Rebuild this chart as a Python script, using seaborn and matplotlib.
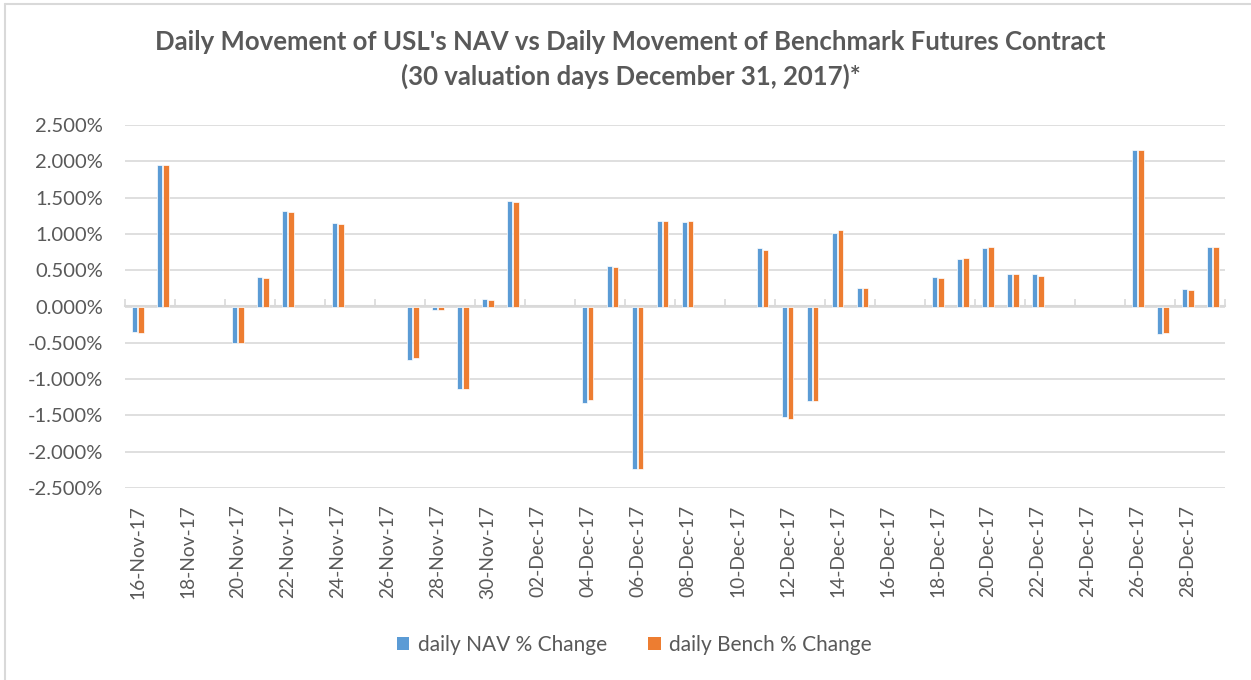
import matplotlib
matplotlib.use("Agg")
import matplotlib.pyplot as plt
import matplotlib.ticker as mticker
from matplotlib.lines import Line2D
from matplotlib.patches import Patch
import seaborn as sns
import pandas as pd
import numpy as np

sns.set_theme(style="white")
plt.rcParams['font.family'] = ['Lato', 'DejaVu Sans']

# valuation days
dates = ['2017-11-16', '2017-11-17', '2017-11-20', '2017-11-21', '2017-11-22',
         '2017-11-24', '2017-11-27', '2017-11-28', '2017-11-29', '2017-11-30',
         '2017-12-01', '2017-12-04', '2017-12-05', '2017-12-06', '2017-12-07',
         '2017-12-08', '2017-12-11', '2017-12-12', '2017-12-13', '2017-12-14',
         '2017-12-15', '2017-12-18', '2017-12-19', '2017-12-20', '2017-12-21',
         '2017-12-22', '2017-12-26', '2017-12-27', '2017-12-28', '2017-12-29']

# daily % change (in percent)
nav_change = [-0.354, 1.954, -0.506, 0.405, 1.315, 1.145, -0.735, -0.046, -1.136, 0.097,
              1.458, -1.333, 0.552, -2.239, 1.172, 1.159, 0.800, -1.526, -1.306, 1.016,
              0.253, 0.405, 0.653, 0.800, 0.446, 0.441, 2.152, -0.382, 0.239, 0.818]
bench_change = [-0.360, 1.945, -0.500, 0.395, 1.300, 1.140, -0.713, -0.050, -1.136, 0.083,
                1.434, -1.287, 0.547, -2.239, 1.172, 1.177, 0.777, -1.554, -1.297, 1.048,
                0.253, 0.391, 0.662, 0.814, 0.441, 0.418, 2.152, -0.368, 0.221, 0.818]

series_names = ['daily NAV % Change', 'daily Bench % Change']
colors = ['#5B9BD5', '#ED7D31']

start = pd.Timestamp('2017-11-16')
end = pd.Timestamp('2017-12-29')
day_idx = [(pd.Timestamp(d) - start).days for d in dates]

df = pd.DataFrame({
    'day': day_idx * 2,
    'value': [v / 100 for v in nav_change] + [v / 100 for v in bench_change],
    'series': [series_names[0]] * len(dates) + [series_names[1]] * len(dates),
})

fig = plt.figure(figsize=(12.51, 6.8), dpi=100)
ax = fig.add_axes([125 / 1251, 1 - 488 / 680, 1100 / 1251, 363 / 680])

sns.barplot(data=df, x='day', y='value', hue='series', hue_order=series_names,
            palette=colors, native_scale=True, width=0.5, gap=0.08,
            edgecolor='white', linewidth=0.5, saturation=1, legend=False, ax=ax)

n_days = (end - start).days + 1
ax.set_xlim(-0.5, n_days - 0.5)
ax.set_ylim(-0.025, 0.025)
ax.yaxis.set_major_locator(mticker.MultipleLocator(0.005))
ax.yaxis.set_major_formatter(
    mticker.FuncFormatter(lambda v, p: f'{0.0 if abs(v) < 1e-12 else v:.3%}'))
ax.grid(axis='y', color='#D9D9D9', linewidth=1.2)
ax.set_axisbelow(True)
for s in ax.spines.values():
    s.set_visible(False)

# tick labels every 2 days, centred on the day slot
label_days = pd.date_range(start, end, freq='2D')
ax.set_xticks([(d - start).days for d in label_days])
ax.set_xticklabels([d.strftime('%d-%b-%y') for d in label_days], rotation=90,
                   fontsize=13.8, color='#595959')
ax.tick_params(axis='x', length=0, pad=12)
ax.tick_params(axis='y', length=0, pad=16, labelsize=14.5, labelcolor='#595959')
ax.set_xlabel('')
ax.set_ylabel('')

# zero axis line with tick marks between day slots
sec = ax.secondary_xaxis(0.5)
sec.set_xticks([t - 0.5 for t in ax.get_xticks()] + [n_days - 0.5])
sec.set_xticklabels([])
sec.tick_params(axis='x', direction='out', length=5, width=1.2, color='#D9D9D9')
for s in sec.spines.values():
    s.set_color('#D9D9D9')
    s.set_linewidth(1.5)

fig.text(0.504, 1 - 42 / 680, "Daily Movement of USL's NAV vs Daily Movement of Benchmark Futures Contract",
         ha='center', va='center', fontsize=18.5, fontweight='bold', color='#595959')
fig.text(0.504, 1 - 76 / 680, "(30 valuation days December 31, 2017)*",
         ha='center', va='center', fontsize=18.5, fontweight='bold', color='#595959')

handles = [Patch(facecolor=c, edgecolor='none') for c in colors]
leg = fig.legend(handles, series_names, loc='center', bbox_to_anchor=(0.507, 1 - 645 / 680),
                 ncol=2, frameon=False, fontsize=15, handlelength=0.6, handleheight=0.6,
                 handletextpad=0.4, columnspacing=2.0)
for t in leg.get_texts():
    t.set_color('#595959')

# outer chart border (top and left edges visible)
fig.add_artist(Line2D([5 / 1251, 5 / 1251], [0, 1 - 4 / 680], transform=fig.transFigure,
                      color='#D9D9D9', linewidth=1.5))
fig.add_artist(Line2D([5 / 1251, 1], [1 - 4 / 680, 1 - 4 / 680], transform=fig.transFigure,
                      color='#D9D9D9', linewidth=1.5))

fig.savefig('out.png', dpi=100)
